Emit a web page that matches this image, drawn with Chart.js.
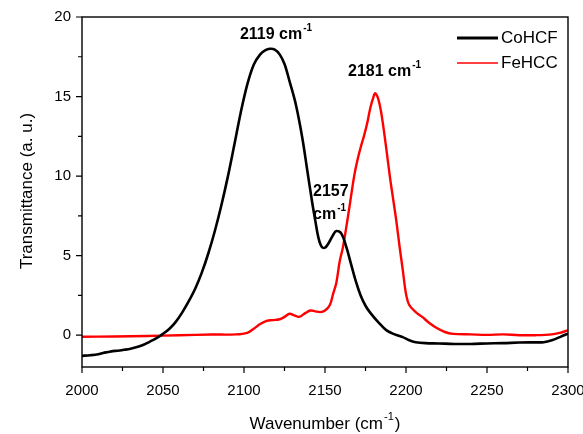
<!DOCTYPE html>
<html>
<head>
<meta charset="utf-8">
<script src="https://cdn.jsdelivr.net/npm/chart.js@4.4.1/dist/chart.umd.min.js"></script>
<style>
  html, body { margin: 0; padding: 0; background: #ffffff; }
  #wrap { width: 583px; height: 434px; position: relative; }
</style>
</head>
<body>
<div id="wrap"><canvas id="ir" width="583" height="434"></canvas></div>
<script>
// CoHCF spectrum: wavenumber (cm-1) and transmittance (a. u.)
const cohcfX = [2000, 2005, 2010, 2013, 2016, 2019, 2022, 2026, 2030, 2034, 2038, 2042, 2046, 2050,
  2054, 2058, 2062, 2066, 2070, 2074, 2078, 2082, 2086, 2090, 2094, 2098, 2102, 2106, 2110, 2113, 2116, 2119,
  2122, 2125, 2128, 2132, 2136, 2139, 2142, 2144, 2146, 2148, 2150, 2152, 2155, 2157, 2160, 2163,
  2166, 2169, 2172, 2175, 2178, 2183, 2188, 2193, 2198, 2202, 2206, 2212, 2220, 2230, 2240, 2250,
  2260, 2270, 2280, 2285, 2290, 2295, 2300];
const cohcfY = [-1.30, -1.26, -1.20, -1.12, -1.06, -1.00, -0.98, -0.92, -0.85, -0.75, -0.60, -0.40, -0.18, 0.08,
  0.40, 0.85, 1.45, 2.15, 2.95, 3.95, 5.15, 6.55, 8.15, 9.95, 11.95, 14.00, 15.75, 17.00, 17.65, 17.90, 18.00, 17.95,
  17.65, 17.05, 16.00, 14.50, 12.40, 10.40, 8.40, 7.20, 6.10, 5.55, 5.50, 5.75, 6.30, 6.55, 6.40, 5.60,
  4.50, 3.40, 2.50, 1.85, 1.40, 0.80, 0.30, 0.05, -0.12, -0.32, -0.44, -0.50, -0.52, -0.55, -0.55, -0.52,
  -0.50, -0.46, -0.45, -0.44, -0.32, -0.12, 0.10];

// FeHCC spectrum
const fehccX = [2000, 2020, 2040, 2060, 2080, 2095, 2102, 2106, 2110, 2114, 2118, 2122, 2125, 2128,
  2131, 2134, 2138, 2141, 2144, 2147, 2150, 2153, 2155, 2157, 2159, 2161, 2163, 2165, 2168, 2170,
  2172, 2174, 2176, 2178, 2180, 2181, 2183, 2185, 2188, 2190, 2192, 2194, 2196, 2198, 2200, 2202,
  2206, 2210, 2214, 2219, 2224, 2229, 2240, 2250, 2260, 2270, 2280, 2290, 2295, 2300];
const fehccY = [-0.10, -0.08, -0.05, 0.00, 0.04, 0.05, 0.15, 0.40, 0.70, 0.90, 0.95, 1.00, 1.15, 1.35,
  1.25, 1.15, 1.40, 1.55, 1.50, 1.45, 1.55, 1.90, 2.60, 3.30, 4.60, 5.50, 6.70, 8.00, 10.00, 11.00,
  11.80, 12.50, 13.30, 14.30, 15.00, 15.20, 14.80, 13.80, 11.60, 10.00, 8.60, 7.20, 5.60, 4.10, 2.60, 1.90,
  1.45, 1.15, 0.80, 0.45, 0.20, 0.08, 0.05, 0.02, 0.05, 0.00, 0.00, 0.05, 0.15, 0.30];

const seriesNames = ['CoHCF', 'FeHCC'];
const seriesColors = ['#000000', '#ff0000'];

// axis ticks
const xTicks = [2000, 2050, 2100, 2150, 2200, 2250, 2300];
const yTicks = [0, 5, 10, 15, 20];

// peak labels, placed in data units (left edge, vertical middle)
const peakLabels = [
  { text: '2119 cm', sup: '-1', x: 2097.5, y: 18.9 },
  { text: '2181 cm', sup: '-1', x: 2164.2, y: 16.55 },
  { text: '2157', sup: '', x: 2142.6, y: 9.0 },
  { text: 'cm', sup: '-1', x: 2142.6, y: 7.55 }
];

const FONT = '"Liberation Sans", Arial, sans-serif';

function toPoints(xs, ys) {
  return xs.map((x, i) => ({ x: x, y: ys[i] }));
}

function drawSupText(ctx, text, sup, x, y, size, bold) {
  const w = bold ? 'bold ' : '';
  ctx.font = w + size + 'px ' + FONT;
  ctx.textAlign = 'left';
  ctx.textBaseline = 'middle';
  ctx.fillText(text, x, y);
  let end = x + ctx.measureText(text).width;
  if (sup) {
    ctx.font = w + Math.round(size * 0.6) + 'px ' + FONT;
    ctx.fillText(sup, end + 1, y - size * 0.42);
    end += 1 + ctx.measureText(sup).width;
  }
  return end;
}

const framePlugin = {
  id: 'frameAndText',
  afterDatasetsDraw(chart) {
    const ctx = chart.ctx;
    const a = chart.chartArea;
    const xs = chart.scales.x;
    const ys = chart.scales.y;
    ctx.save();
    ctx.strokeStyle = '#000';
    ctx.fillStyle = '#000';
    ctx.lineWidth = 1.4;
    ctx.strokeRect(a.left, a.top, a.right - a.left, a.bottom - a.top);

    // tick marks: majors and minors, outside the frame
    ctx.lineWidth = 1.2;
    ctx.beginPath();
    for (let v = 2000; v <= 2300; v += 25) {
      const px = xs.getPixelForValue(v);
      const len = (v % 50 === 0) ? 6 : 4;
      ctx.moveTo(px, a.bottom);
      ctx.lineTo(px, a.bottom + len);
    }
    for (let v = 0; v <= 20; v += 2.5) {
      const py = ys.getPixelForValue(v);
      const len = (v % 5 === 0) ? 6 : 4;
      ctx.moveTo(a.left, py);
      ctx.lineTo(a.left - len, py);
    }
    ctx.stroke();

    // y title
    ctx.save();
    ctx.font = '17px ' + FONT;
    ctx.translate(27, (a.top + a.bottom) / 2 - 1);
    ctx.rotate(-Math.PI / 2);
    ctx.textAlign = 'center';
    ctx.textBaseline = 'middle';
    ctx.fillText('Transmittance (a. u.)', 0, 0);
    ctx.restore();

    // x title with superscript
    ctx.font = '17px ' + FONT;
    const t1 = 'Wavenumber (cm', t2 = '-1', t3 = ')';
    const w1 = ctx.measureText(t1).width;
    const w3 = ctx.measureText(t3).width;
    ctx.font = '11px ' + FONT;
    const w2 = ctx.measureText(t2).width;
    const total = w1 + w2 + w3 + 2;
    let tx = (a.left + a.right) / 2 - total / 2;
    const ty = 424;
    ctx.textAlign = 'left';
    ctx.textBaseline = 'middle';
    ctx.font = '17px ' + FONT;
    ctx.fillText(t1, tx, ty);
    ctx.font = '11px ' + FONT;
    ctx.fillText(t2, tx + w1 + 1, ty - 7);
    ctx.font = '17px ' + FONT;
    ctx.fillText(t3, tx + w1 + w2 + 2, ty);

    // peak labels
    peakLabels.forEach(l => {
      drawSupText(ctx, l.text, l.sup, xs.getPixelForValue(l.x), ys.getPixelForValue(l.y), 16, true);
    });

    // legend
    chart.data.datasets.forEach((ds, i) => {
      const ly = a.top + 21 + i * 25;
      ctx.strokeStyle = ds.borderColor;
      ctx.lineWidth = i === 0 ? 3 : 1.3;
      ctx.beginPath();
      ctx.moveTo(457, ly);
      ctx.lineTo(498, ly);
      ctx.stroke();
      ctx.fillStyle = '#000';
      ctx.font = '17px ' + FONT;
      ctx.textAlign = 'left';
      ctx.textBaseline = 'middle';
      ctx.fillText(ds.label, 501, ly);
    });
    ctx.restore();
  }
};

new Chart(document.getElementById('ir'), {
  type: 'line',
  data: {
    datasets: [
      { label: seriesNames[0], data: toPoints(cohcfX, cohcfY), borderColor: seriesColors[0],
        borderWidth: 2.6, pointRadius: 0, tension: 0.35, fill: false },
      { label: seriesNames[1], data: toPoints(fehccX, fehccY), borderColor: seriesColors[1],
        borderWidth: 2.4, pointRadius: 0, tension: 0.35, fill: false }
    ]
  },
  options: {
    responsive: false,
    animation: false,
    devicePixelRatio: 1,
    layout: { padding: { top: 17, right: 15, left: 0, bottom: 0 } },
    plugins: { legend: { display: false }, tooltip: { enabled: false } },
    scales: {
      x: {
        type: 'linear', min: 2000, max: 2300,
        afterBuildTicks: s => { s.ticks = xTicks.map(v => ({ value: v })); },
        afterFit: s => { s.height = 67; s.paddingLeft = 0; s.paddingRight = 0; },
        grid: { display: false, drawTicks: false },
        border: { display: false },
        ticks: { color: '#000', padding: 15, maxRotation: 0, font: { family: FONT, size: 15 },
          callback: v => String(v) }
      },
      y: {
        type: 'linear', min: -2, max: 20,
        afterBuildTicks: s => { s.ticks = yTicks.map(v => ({ value: v })); },
        afterFit: s => { s.width = 82; s.paddingTop = 0; s.paddingBottom = 0; },
        grid: { display: false, drawTicks: false },
        border: { display: false },
        ticks: { color: '#000', padding: 11, font: { family: FONT, size: 15 },
          callback: v => String(v) }
      }
    }
  },
  plugins: [framePlugin]
});
</script>
</body>
</html>
